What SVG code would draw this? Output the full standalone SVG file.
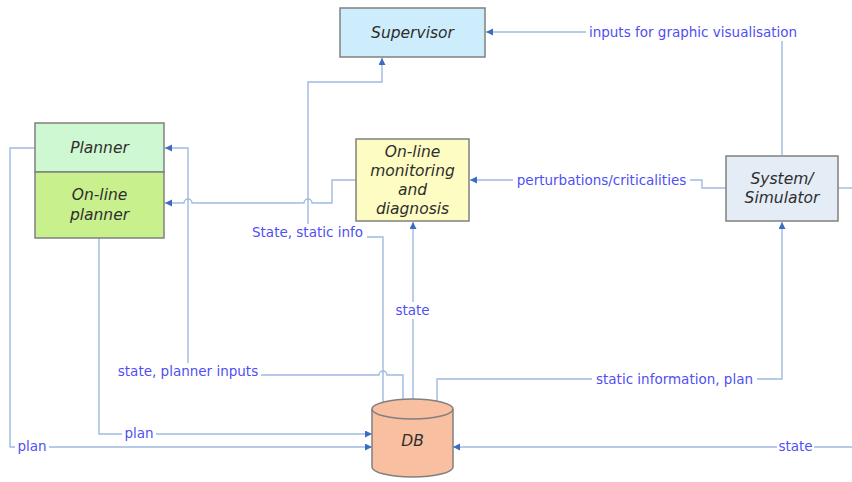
<svg xmlns="http://www.w3.org/2000/svg" width="852" height="482" viewBox="0 0 852 482">
  <style>
    .node { stroke: #808080; stroke-width: 1.5; }
    .ntext { font-family: "DejaVu Sans", Verdana, sans-serif; font-size: 15.5px; font-style: italic; fill: #2e2e2e; text-anchor: middle; }
    .wire { fill: none; stroke: #9dbadf; stroke-width: 1.4; }
    .arrow { marker-end: url(#head); }
    .lbl { font-family: "DejaVu Sans", Verdana, sans-serif; font-size: 13.5px; fill: #4f4ff5; text-anchor: middle; }
    .lbg { fill: #ffffff; }
  </style>
  <defs>
    <marker id="head" markerUnits="userSpaceOnUse" markerWidth="8" markerHeight="8" refX="7" refY="3.5" orient="auto">
      <path d="M0,0 L7,3.5 L0,7 z" fill="#3b6cc2"/>
    </marker>
  </defs>

  <rect width="852" height="482" fill="#ffffff"/>

  <!-- connectors -->
  <g id="connectors">
    <!-- System -> Supervisor -->
    <path class="wire arrow" d="M782,155 V32 H486"/>
    <!-- DB -> Supervisor -->
    <path class="wire arrow" d="M383,402 V237 H308 V82 H382 V58"/>
    <!-- DB -> monitoring -->
    <path class="wire arrow" d="M413,399 V222"/>
    <!-- DB -> Planner -->
    <path class="wire arrow" d="M403,399 V375 H387 A4,4 0 0 0 379,375 H188 V148 H165"/>
    <!-- monitoring -> on-line planner -->
    <path class="wire arrow" d="M356,180 H332 V203 H312 A4,4 0 0 0 304,203 H192 A4,4 0 0 0 184,203 H165"/>
    <!-- System -> monitoring -->
    <path class="wire arrow" d="M726,188 H702 V180 H470"/>
    <!-- DB -> System -->
    <path class="wire arrow" d="M437,401 V379 H782 V222"/>
    <!-- Planner -> DB -->
    <path class="wire arrow" d="M35,148 H10 V447 H372"/>
    <!-- On-line planner -> DB -->
    <path class="wire arrow" d="M99,238 V434 H372"/>
    <!-- external state -> DB -->
    <path class="wire arrow" d="M852,447 H453"/>
    <!-- System outgoing -->
    <path class="wire" d="M838,188 H852"/>

    <!-- labels -->
    <rect class="lbg" x="586" y="24" width="214" height="17"/>
    <text class="lbl" x="693" y="37">inputs for graphic visualisation</text>
    <rect class="lbg" x="248" y="224" width="119" height="17"/>
    <text class="lbl" x="307.5" y="237">State, static info</text>
    <rect class="lbg" x="394" y="302" width="37" height="17"/>
    <text class="lbl" x="412.5" y="315">state</text>
    <rect class="lbg" x="115" y="363" width="146" height="17"/>
    <text class="lbl" x="188" y="376">state, planner inputs</text>
    <rect class="lbg" x="513" y="172" width="177" height="17"/>
    <text class="lbl" x="601.5" y="185">perturbations/criticalities</text>
    <rect class="lbg" x="592" y="371" width="165" height="17"/>
    <text class="lbl" x="674.5" y="384">static information, plan</text>
    <rect class="lbg" x="15" y="438" width="34" height="17"/>
    <text class="lbl" x="32" y="451">plan</text>
    <rect class="lbg" x="122" y="425" width="34" height="17"/>
    <text class="lbl" x="139" y="438">plan</text>
    <rect class="lbg" x="777" y="438" width="37" height="17"/>
    <text class="lbl" x="795.5" y="451">state</text>
  </g>

  <!-- nodes -->
  <g id="supervisor">
    <rect class="node" x="340" y="8" width="145" height="49" fill="#cdedfc"/>
    <text class="ntext" x="412.5" y="38">Supervisor</text>
  </g>

  <g id="planner">
    <rect class="node" x="35" y="123" width="129" height="49" fill="#cef8d2"/>
    <text class="ntext" x="99.5" y="153">Planner</text>
  </g>

  <g id="online-planner">
    <rect class="node" x="35" y="172" width="129" height="66" fill="#c8f18e"/>
    <text class="ntext" x="99.5" y="200">On-line</text>
    <text class="ntext" x="99.5" y="220">planner</text>
  </g>

  <g id="monitoring">
    <rect class="node" x="356" y="139" width="113" height="82" fill="#fdfcc2"/>
    <text class="ntext" x="412.5" y="157">On-line</text>
    <text class="ntext" x="412.5" y="176">monitoring</text>
    <text class="ntext" x="412.5" y="195">and</text>
    <text class="ntext" x="412.5" y="214">diagnosis</text>
  </g>

  <g id="system">
    <rect class="node" x="726" y="156" width="112" height="65" fill="#e4ecf6"/>
    <text class="ntext" x="782" y="184">System/</text>
    <text class="ntext" x="782" y="203">Simulator</text>
  </g>

  <g id="db">
    <path class="node" fill="#f8bfa0" d="M372,409 A40.5,10 0 0 1 453,409 V467 A40.5,10 0 0 1 372,467 Z"/>
    <path class="node" fill="none" d="M372,409 A40.5,10 0 0 0 453,409"/>
    <text class="ntext" x="412.5" y="446">DB</text>
  </g>
</svg>
